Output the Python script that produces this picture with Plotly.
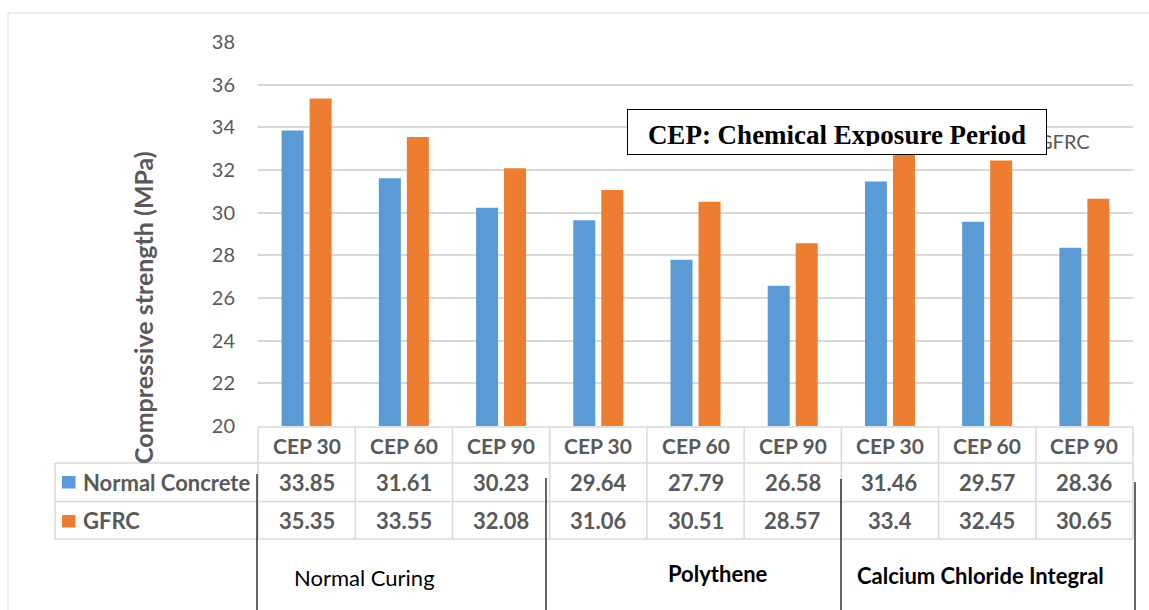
import plotly.graph_objects as go

# --- data -------------------------------------------------------------
periods = ["CEP 30", "CEP 60", "CEP 90",
           "CEP 30", "CEP 60", "CEP 90",
           "CEP 30", "CEP 60", "CEP 90"]
curing_methods = ["Normal Curing", "Polythene", "Calcium Chloride Integral"]
normal_concrete = [33.85, 31.61, 30.23, 29.64, 27.79, 26.58, 31.46, 29.57, 28.36]
gfrc = [35.35, 33.55, 32.08, 31.06, 30.51, 28.57, 33.4, 32.45, 30.65]
y_ticks = [20, 22, 24, 26, 28, 30, 32, 34, 36, 38]

BLUE = "#5B9BD5"
ORANGE = "#ED7D31"
GREY_TXT = "#595959"
GRID = "#D9D9D9"
SANS = "Lato, 'Open Sans', sans-serif"
SERIF = "'Liberation Serif', 'Times New Roman', serif"

W, H = 1149, 610
L, R, T, B = 258, 1133, 42, 426          # plot area in pixels
PW, PH = R - L, B - T


def px(x):
    """pixel x -> paper x"""
    return (x - L) / PW


def py(y):
    """pixel y -> paper y"""
    return (B - y) / PH


def label(x, y, text, font, xref="paper", xanchor="center", **kw):
    return dict(x=x, y=y, xref=xref, yref="paper", text=text, showarrow=False,
                xanchor=xanchor, yanchor="middle", font=font, **kw)


xs = list(range(len(periods)))

fig = go.Figure()
fig.add_trace(go.Bar(x=xs, y=normal_concrete, name="Normal Concrete",
                     marker=dict(color=BLUE, line=dict(width=0))))
fig.add_trace(go.Bar(x=xs, y=gfrc, name="GFRC",
                     marker=dict(color=ORANGE, line=dict(width=0))))

shapes = []
annotations = []

# outer chart frame
shapes.append(dict(type="rect", xref="paper", yref="paper",
                   x0=px(8), x1=px(1170), y0=py(13), y1=py(640),
                   line=dict(color=GRID, width=1), layer="below"))

# data table grid
row_lines = [427, 463, 501.5, 539]
shapes.append(dict(type="line", xref="paper", yref="paper", x0=0, x1=1,
                   y0=py(row_lines[0]), y1=py(row_lines[0]),
                   line=dict(color=GRID, width=1.5)))
for yl in row_lines[1:]:
    shapes.append(dict(type="line", xref="paper", yref="paper",
                       x0=px(55), x1=1, y0=py(yl), y1=py(yl),
                       line=dict(color=GRID, width=1.5)))
shapes.append(dict(type="line", xref="paper", yref="paper",
                   x0=px(55), x1=px(55), y0=py(row_lines[1]), y1=py(row_lines[3]),
                   line=dict(color=GRID, width=1.5)))
for i in range(len(xs) + 1):
    xb = i / len(xs)          # category boundaries in paper units
    shapes.append(dict(type="line", xref="paper", yref="paper",
                       x0=xb, x1=xb, y0=py(row_lines[0]), y1=py(row_lines[3]),
                       line=dict(color=GRID, width=1.5)))

# legend keys inside the table
for (y0, y1, col) in [(476, 488.5, BLUE), (515, 527.5, ORANGE)]:
    shapes.append(dict(type="rect", xref="paper", yref="paper",
                       x0=px(62), x1=px(75.5), y0=py(y1), y1=py(y0),
                       fillcolor=col, line=dict(width=0)))

# separators between curing methods
for xb, ytop in [(257, 474), (546, 478), (841, 479), (1135, 482)]:
    shapes.append(dict(type="line", xref="paper", yref="paper",
                       x0=px(xb), x1=px(xb), y0=py(ytop), y1=py(620),
                       line=dict(color="#000000", width=1.2)))

hdr_font = dict(family=SANS, size=21, color=GREY_TXT, weight="bold")
val_font = dict(family=SANS, size=22, color=GREY_TXT, weight="bold")
row_centers = [445, 482, 520.5]
for i, lab in enumerate(periods):
    annotations.append(label(i, py(row_centers[0]), lab, hdr_font, xref="x"))
    annotations.append(label(i, py(row_centers[1]), f"{normal_concrete[i]}", val_font, xref="x"))
    annotations.append(label(i, py(row_centers[2]), f"{gfrc[i]}", val_font, xref="x"))

for name, yc in [("Normal Concrete", row_centers[1]), ("GFRC", row_centers[2])]:
    annotations.append(label(px(81), py(yc), name, val_font, xanchor="left"))

# curing method labels under the table
group_pos = [(364, 577, "normal"), (718, 573, "bold"), (980, 575, "bold")]
for name, (gx, gy, wt) in zip(curing_methods, group_pos):
    annotations.append(label(px(gx), py(gy), name,
                             dict(family=SANS, size=22, color="#000000", weight=wt)))

# axis title
annotations.append(label(px(143), py(308), "Compressive strength (MPa)",
                         dict(family=SANS, size=25, color=GREY_TXT, weight="bold"),
                         textangle=-90))

# series legend (partly under the note box)
annotations.append(label(px(1092), py(141),
                         (f"<span style='color:{BLUE}'>■</span> Normal Concrete    "
                          f"<span style='color:{ORANGE}'>■</span> GFRC"),
                         dict(family=SANS, size=20, color=GREY_TXT), xanchor="right"))

# note box: white frame, then the text clipped to the inner area
annotations.append(label(px(837), py(132), " ",
                         dict(family=SERIF, size=10, color="#000000"),
                         width=418, height=44, borderpad=0,
                         bgcolor="#FFFFFF", bordercolor="#000000", borderwidth=1))
annotations.append(label(px(837), py(133), "CEP: Chemical Exposure Period",
                         dict(family=SERIF, size=27, color="#000000", weight="bold"),
                         width=400, height=26, borderpad=0, valign="top"))

fig.update_layout(
    width=W, height=H,
    margin=dict(l=L, r=W - R, t=T, b=H - B, pad=0),
    paper_bgcolor="#FFFFFF", plot_bgcolor="#FFFFFF",
    barmode="group", bargap=0.424, bargroupgap=0.214,
    showlegend=False,
    shapes=shapes, annotations=annotations,
    font=dict(family=SANS, color=GREY_TXT),
)
fig.update_xaxes(range=[-0.5, len(xs) - 0.5], showticklabels=False, showgrid=False,
                 zeroline=False, showline=False, ticks="")
fig.update_yaxes(range=[20, 38], tickvals=y_ticks, showgrid=True, gridcolor=GRID,
                 gridwidth=1.5, zeroline=False, showline=False, ticks="",
                 ticklabelstandoff=22,
                 tickfont=dict(family=SANS, size=20, color=GREY_TXT))

fig.write_html("out.html")
